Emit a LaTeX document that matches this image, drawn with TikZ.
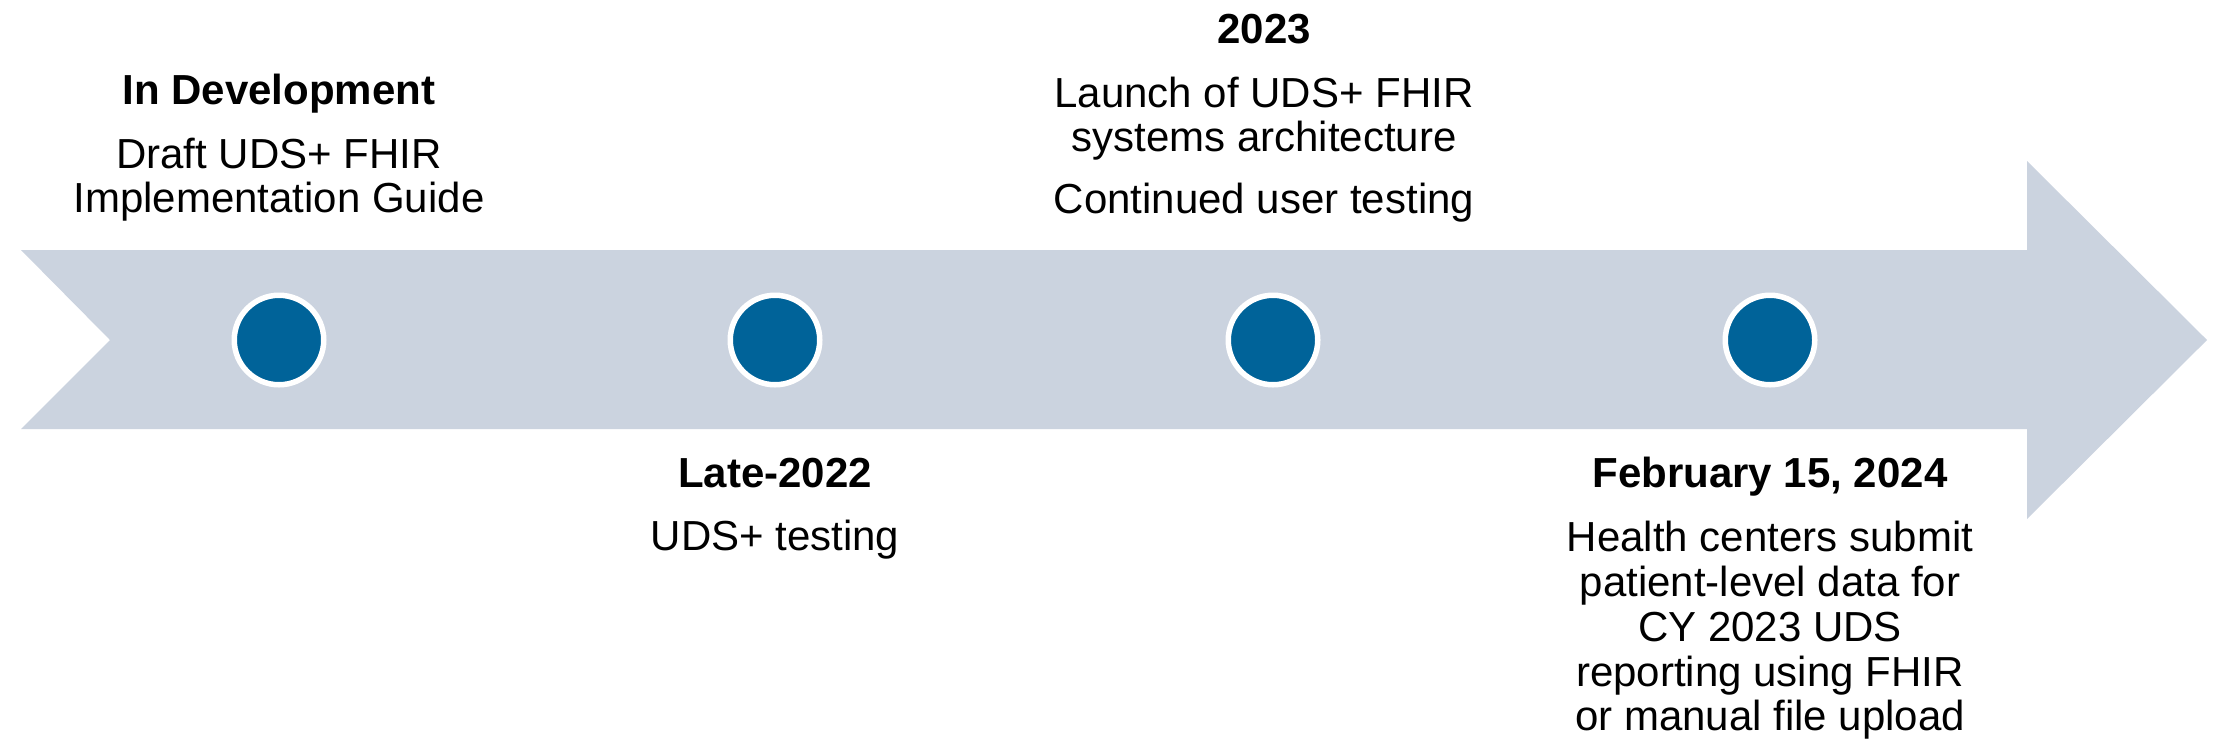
\documentclass[tikz,border=0pt]{standalone}
\usepackage{fontspec}
\setmainfont{Liberation Sans}
\definecolor{bandcol}{RGB}{203,211,223}
\definecolor{dotcol}{RGB}{0,99,153}
\begin{document}
\begin{tikzpicture}[x=0.5pt,y=-0.5pt,
  lbl/.style={anchor=base,inner sep=0pt,font=\fontsize{21}{22}\selectfont},
  headlbl/.style={anchor=base,inner sep=0pt,font=\fontsize{21}{22}\selectfont\bfseries},
  milestone/.style={circle,fill=dotcol,draw=white,line width=2.75pt,minimum size=44.75pt,inner sep=0pt}]
\useasboundingbox (0,0) rectangle (2219,741);
% timeline arrow
\fill[bandcol] (21,250) -- (2027,250) -- (2027,161) -- (2207,340) -- (2027,519)
  -- (2027,429) -- (21,429) -- (110,340) -- cycle;
% milestones
\node[milestone] (m1) at (279,340) {};
\node[milestone] (m2) at (775,340) {};
\node[milestone] (m3) at (1273,340) {};
\node[milestone] (m4) at (1770,340) {};
% column 1
\node[headlbl] (h1) at (279,104) {In Development};
\node[lbl] (t1a) at (279,168) {Draft UDS+ FHIR};
\node[lbl] (t1b) at (279,212) {Implementation Guide};
% column 2
\node[headlbl] (h2) at (775,487) {Late-2022};
\node[lbl] (t2a) at (775,550) {UDS+ testing};
% column 3
\node[headlbl] (h3) at (1264,43) {2023};
\node[lbl] (t3a) at (1264,107) {Launch of UDS+ FHIR};
\node[lbl] (t3b) at (1264,151) {systems architecture};
\node[lbl] (t3c) at (1264,213) {Continued user testing};
% column 4
\node[headlbl] (h4) at (1770,487) {February 15, 2024};
\node[lbl] (t4a) at (1770,551) {Health centers submit};
\node[lbl] (t4b) at (1770,596) {patient-level data for};
\node[lbl] (t4c) at (1770,641) {CY 2023 UDS};
\node[lbl] (t4d) at (1770,686) {reporting using FHIR};
\node[lbl] (t4e) at (1770,730) {or manual file upload};
\end{tikzpicture}
\end{document}
